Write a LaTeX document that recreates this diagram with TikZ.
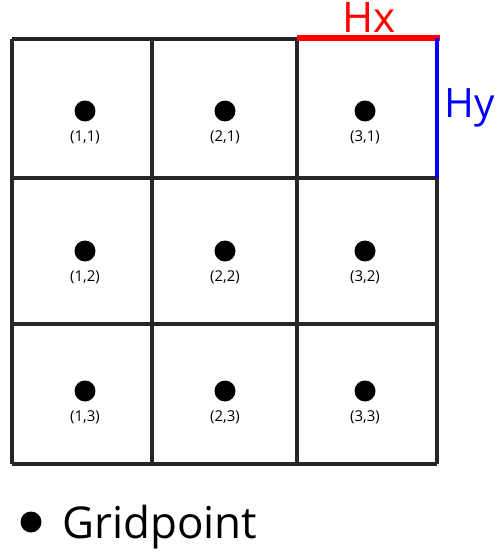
\documentclass[tikz,border=0pt]{standalone}
\usepackage{fontspec}
\setmainfont{Open Sans}
\usetikzlibrary{positioning}

\begin{document}
\begin{tikzpicture}[x=0.02cm, y=-0.02cm,
    gridline/.style={line width=1.8pt, black!85},
    gridpt/.style={circle, fill=black, inner sep=0pt, minimum size=0.42cm},
    cellid/.style={inner sep=0pt, font=\fontsize{8.5}{10}\selectfont},
    bigtext/.style={inner sep=0pt, font=\fontsize{24}{28}\selectfont}]

    \useasboundingbox (0,0) rectangle (495,554);

    % 1. The 3x3 cells
    \foreach \gx in {12,152,297,437}
        \draw[gridline] (\gx,39) -- (\gx,464);
    \foreach \gy in {39,178,324,464}
        \draw[gridline] (12,\gy) -- (437,\gy);

    % 2. One grid point in the middle of every cell, with its index below
    \foreach \c in {1,2,3} {
        \foreach \r in {1,2,3} {
            \node[gridpt] (p\c\r) at ({85+140*(\c-1)}, {111+140*(\r-1)}) {};
            \node[cellid, below=0.17cm of p\c\r] (l\c\r) {(\c,\r)};
        }
    }

    % 3. Cell sizes Hx and Hy on the top right cell
    \coordinate (hxl) at (297,38);
    \coordinate (hxr) at (440,38);
    \coordinate (hyt) at (437,38);
    \coordinate (hyb) at (437,178);
    \draw[red, line width=3.4pt] (hxl) -- (hxr);
    \draw[blue, line width=2.5pt] (hyt) -- (hyb);
    \node[bigtext, red, anchor=base] (hx) at (369,33) {Hx};
    \node[bigtext, blue, anchor=base west, font=\fontsize{23}{27}\selectfont] (hy) at (444,117) {Hy};

    % 4. Legend
    \node[gridpt] (legdot) at (31,522) {};
    \node[bigtext, anchor=base west, font=\fontsize{25}{29}\selectfont] (legtxt) at (62,538) {Gridpoint};
\end{tikzpicture}
\end{document}
